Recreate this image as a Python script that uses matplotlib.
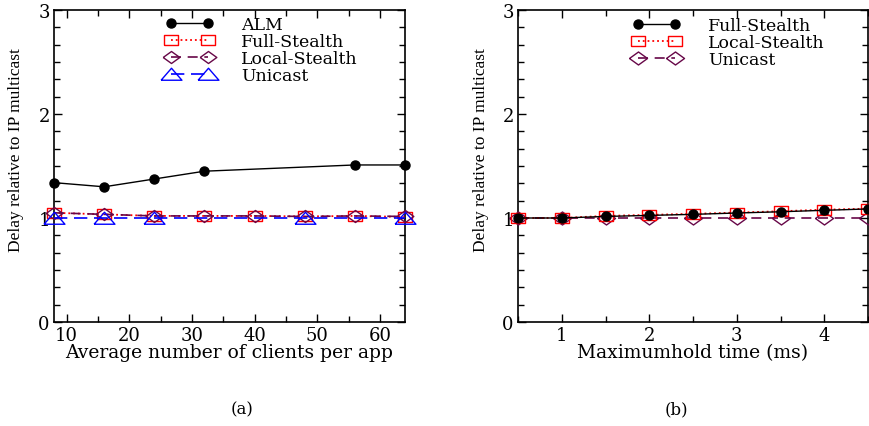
import matplotlib
matplotlib.use('Agg')
import matplotlib.pyplot as plt
from matplotlib.ticker import MultipleLocator

# (a) delay vs average number of clients per app
clients_alm = [8, 16, 24, 32, 56, 64]
alm = [1.34, 1.30, 1.375, 1.45, 1.51, 1.51]
clients = [8, 16, 24, 32, 40, 48, 56, 64]
full_a = [1.05, 1.035, 1.02, 1.02, 1.02, 1.015, 1.02, 1.01]
local_a = [1.05, 1.035, 1.02, 1.02, 1.02, 1.015, 1.02, 1.015]
clients_uni = [8, 16, 24, 48, 64]
unicast_a = [1.0, 1.0, 1.0, 1.0, 1.0]

# (b) delay vs maximum hold time
hold = [0.5, 1.0, 1.5, 2.0, 2.5, 3.0, 3.5, 4.0, 4.5]
full_b = [1.0, 1.0, 1.015, 1.025, 1.035, 1.048, 1.06, 1.074, 1.087]
local_b = [1.0, 1.0, 1.02, 1.03, 1.04, 1.052, 1.065, 1.08, 1.09]
unicast_b = [1.0, 1.0, 1.0, 1.0, 1.0, 1.0, 1.0, 1.0, 1.0]

SERIF = 'DejaVu Serif'
MAROON = '#670748'

# the original markers are a bit wider than tall
RECT = [(-1, -0.7), (1, -0.7), (1, 0.7), (-1, 0.7), (-1, -0.7)]
DIAM = [(-1, 0), (0, 0.72), (1, 0), (0, -0.72), (-1, 0)]
TRI = [(-1, -0.55), (1, -0.55), (0, 0.6), (-1, -0.55)]

fig = plt.figure(figsize=(8.69, 4.27), dpi=100)
ax1 = fig.add_axes([54/869, 1-323/427, 351/869, 312/427])
ax2 = fig.add_axes([518/869, 1-323/427, 350/869, 312/427])

ax1.plot(clients_alm, alm, '-', color='black', marker='o', ms=6.5, lw=1, label='ALM', clip_on=False, zorder=6)
ax1.plot(clients, full_a, ':', color='red', marker=RECT, ms=10, mfc='none', mew=1, lw=1.3, label='Full-Stealth', clip_on=False, zorder=5)
ax1.plot(clients, local_a, '--', color=MAROON, marker=DIAM, ms=12, mfc='none', mew=1, lw=1.2, dashes=(6, 4), label='Local-Stealth', clip_on=False, zorder=5)
ax1.plot(clients_uni, unicast_a, '--', color='blue', marker=TRI, ms=15, mfc='none', mew=1, lw=1.2, dashes=(8, 4), label='Unicast', clip_on=False, zorder=5)

ax2.plot(hold, full_b, '-', color='black', marker='o', ms=6.5, lw=1, label='Full-Stealth', clip_on=False, zorder=6)
ax2.plot(hold, local_b, ':', color='red', marker=RECT, ms=10, mfc='none', mew=1, lw=1.3, label='Local-Stealth', clip_on=False, zorder=5)
ax2.plot(hold, unicast_b, '--', color=MAROON, marker=DIAM, ms=13, mfc='none', mew=1, lw=1.2, dashes=(6, 4), label='Unicast', clip_on=False, zorder=4)

ax1.set_xlim(8, 64)
ax2.set_xlim(0.5, 4.5)
ax1.xaxis.set_major_locator(MultipleLocator(10))
ax1.xaxis.set_minor_locator(MultipleLocator(5))
ax2.xaxis.set_major_locator(MultipleLocator(1))
ax2.xaxis.set_minor_locator(MultipleLocator(0.5))

for ax in (ax1, ax2):
    ax.set_ylim(0, 3)
    ax.yaxis.set_major_locator(MultipleLocator(1))
    ax.yaxis.set_minor_locator(MultipleLocator(1/6))
    ax.tick_params(which='both', direction='in', top=True, right=True, labelsize=13, pad=3)
    ax.tick_params(which='major', length=6, width=1)
    ax.tick_params(which='minor', length=4, width=1)
    for lbl in ax.get_xticklabels() + ax.get_yticklabels():
        lbl.set_family(SERIF)
    for s in ax.spines.values():
        s.set_linewidth(1.2)
    ax.set_ylabel('Delay relative to IP multicast', family='Liberation Serif', fontsize=12.5)
    ax.legend(loc='upper left', frameon=False, numpoints=2, prop={'family': SERIF, 'size': 12.5},
              handlelength=2.75, handletextpad=1.6, labelspacing=0.0, borderpad=0, borderaxespad=0,
              bbox_to_anchor=(0.318, 0.982) if ax is ax1 else (0.328, 0.978))

ax1.yaxis.set_label_coords(-0.085, 0.555)
ax2.yaxis.set_label_coords(-0.083, 0.555)
ax1.set_xlabel('Average number of clients per app', family=SERIF, fontsize=13.5, labelpad=-1)
ax2.set_xlabel('Maximumhold time (ms)', family=SERIF, fontsize=13.5, labelpad=-1)

fig.text(242/869, 1-410/427, '(a)', family=SERIF, fontsize=12, ha='center', va='center')
fig.text(676/869, 1-410/427, '(b)', family=SERIF, fontsize=12, ha='center', va='center')

fig.savefig('out.png', dpi=100)
